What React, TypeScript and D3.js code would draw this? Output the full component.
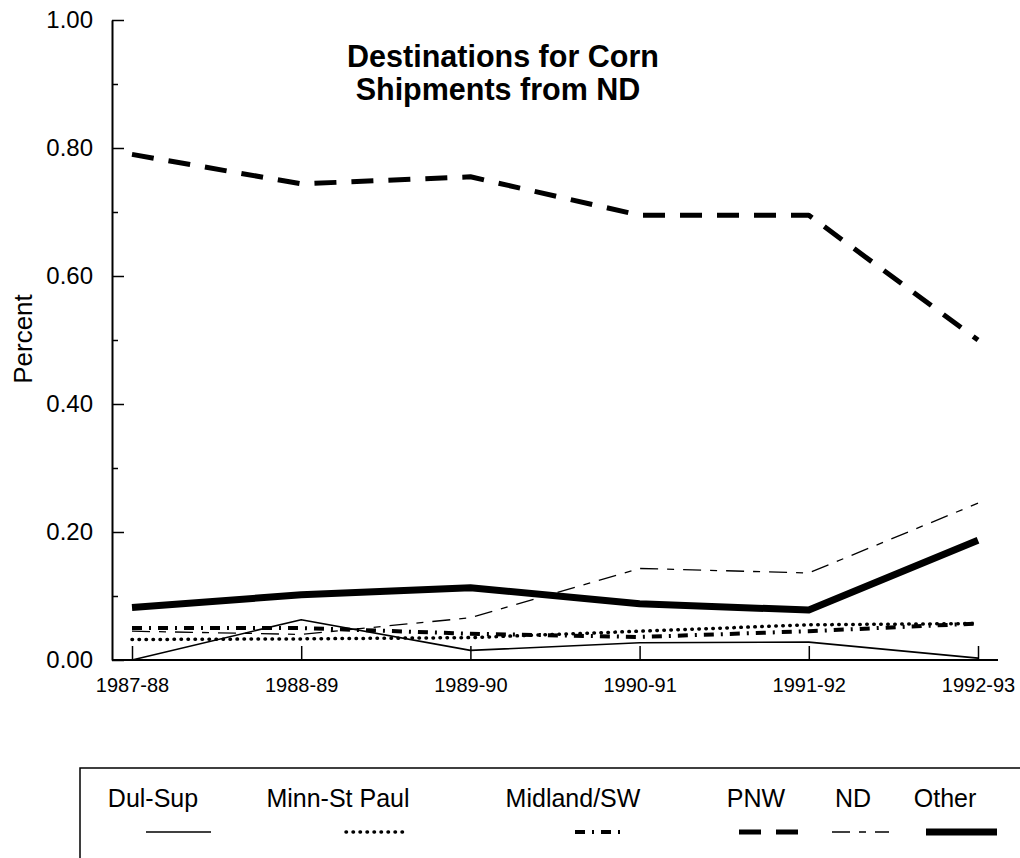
import * as d3 from 'd3';
import React, { useEffect, useRef } from 'react';

// marketing years on the x axis
const years = ['1987-88', '1988-89', '1989-90', '1990-91', '1991-92', '1992-93'];

// share of ND corn shipments by destination
const dulSup = [0.0, 0.063, 0.015, 0.027, 0.028, 0.003];
const minnStPaul = [0.032, 0.033, 0.035, 0.045, 0.055, 0.057];
const midlandSW = [0.05, 0.05, 0.041, 0.036, 0.045, 0.057];
const pnw = [0.79, 0.744, 0.755, 0.695, 0.695, 0.5];
const nd = [0.045, 0.04, 0.066, 0.143, 0.136, 0.245];
const other = [0.082, 0.102, 0.113, 0.088, 0.078, 0.187];

const seriesNames = ['Dul-Sup', 'Minn-St Paul', 'Midland/SW', 'PNW', 'ND', 'Other'];
const yMajorTicks = [0, 0.2, 0.4, 0.6, 0.8, 1.0];
const yMinorTicks = [0.1, 0.3, 0.5, 0.7, 0.9];

const FONT = "'Liberation Sans', Arial, Helvetica, sans-serif";

const styles = [
    { width: 1.6, dash: null, cap: 'butt' },
    { width: 3.5, dash: '0.5 6.5', cap: 'round' },
    { width: 4, dash: '10 7 2 7', cap: 'butt' },
    { width: 5, dash: '22 15', cap: 'butt' },
    { width: 1.3, dash: '18 9 7 9', cap: 'butt' },
    { width: 7, dash: null, cap: 'butt' },
];

// legend text centre and sample extent
const legendPos = [
    { tx: 153, s0: 146, s1: 211 },
    { tx: 338, s0: 346, s1: 404 },
    { tx: 573, s0: 575, s1: 627 },
    { tx: 756, s0: 739, s1: 805 },
    { tx: 853, s0: 832, s1: 889 },
    { tx: 945, s0: 926, s1: 997 },
];

const App = () => {
    const svgRef = useRef<SVGSVGElement | null>(null);

    useEffect(() => {
        const width = 1020;
        const height = 858;
        const allSeries = [dulSup, minnStPaul, midlandSW, pnw, nd, other];

        const x = d3.scalePoint<string>().domain(years).range([132, 978]);
        const y = d3.scaleLinear().domain([0, 1]).range([660, 20]);

        const svg = d3
            .select(svgRef.current)
            .attr('width', width)
            .attr('height', height)
            .attr('viewBox', [0, 0, width, height])
            .style('font-family', FONT);
        svg.selectAll('*').remove();

        svg.append('rect').attr('width', width).attr('height', height).attr('fill', '#fff');

        // y axis: minor ticks then labelled major ticks
        svg.append('g')
            .attr('transform', 'translate(112,0)')
            .call(d3.axisLeft(y).tickValues(yMinorTicks).tickSize(-6).tickFormat(() => ''))
            .call((g) => g.select('.domain').remove())
            .call((g) => g.selectAll('.tick line').attr('stroke-width', 1.5));

        svg.append('g')
            .attr('transform', 'translate(112,0)')
            .call(
                d3
                    .axisLeft(y)
                    .tickValues(yMajorTicks)
                    .tickSizeInner(-12)
                    .tickSizeOuter(0)
                    .tickPadding(19)
                    .tickFormat(d3.format('.2f')),
            )
            .call((g) => g.select('.domain').attr('stroke-width', 2))
            .call((g) => g.selectAll('.tick line').attr('stroke-width', 1.5))
            .call((g) =>
                g
                    .selectAll('.tick text')
                    .attr('font-size', 24)
                    .attr('font-family', FONT)
                    .attr('fill', '#000'),
            );

        // x axis
        svg.append('line')
            .attr('x1', 112)
            .attr('x2', 998)
            .attr('y1', y(0))
            .attr('y2', y(0))
            .attr('stroke', '#000')
            .attr('stroke-width', 2);

        svg.append('g')
            .attr('transform', `translate(0,${y(0)})`)
            .call(d3.axisBottom(x).tickSizeInner(-14).tickSizeOuter(0).tickPadding(18))
            .call((g) => g.select('.domain').remove())
            .call((g) => g.selectAll('.tick line').attr('stroke-width', 1.5))
            .call((g) =>
                g
                    .selectAll('.tick text')
                    .attr('font-size', 20)
                    .attr('font-family', FONT)
                    .attr('fill', '#000'),
            );

        svg.append('text')
            .attr('transform', 'translate(32,339) rotate(-90)')
            .attr('text-anchor', 'middle')
            .attr('font-size', 26)
            .text('Percent');

        // title
        const title = svg
            .append('text')
            .attr('text-anchor', 'middle')
            .attr('font-size', 30.5)
            .attr('font-weight', 'bold');
        title.append('tspan').attr('x', 503).attr('y', 67).text('Destinations for Corn');
        title.append('tspan').attr('x', 498).attr('y', 100).text('Shipments from ND');

        const line = d3
            .line<number>()
            .x((_, i) => x(years[i]) as number)
            .y((d) => y(d));

        allSeries.forEach((values, i) => {
            const st = styles[i];
            svg.append('path')
                .datum(values)
                .attr('d', line)
                .attr('fill', 'none')
                .attr('stroke', '#000')
                .attr('stroke-width', st.width)
                .attr('stroke-linecap', st.cap)
                .attr('stroke-linejoin', 'round')
                .attr('stroke-dasharray', st.dash);
        });

        // legend box
        svg.append('path')
            .attr('d', 'M80,858 L80,768 L1020,768')
            .attr('fill', 'none')
            .attr('stroke', '#000')
            .attr('stroke-width', 1.5);

        const legend = svg.append('g');
        seriesNames.forEach((name, i) => {
            const p = legendPos[i];
            const st = styles[i];
            legend
                .append('text')
                .attr('x', p.tx)
                .attr('y', 807)
                .attr('text-anchor', 'middle')
                .attr('font-size', 25)
                .text(name);
            legend
                .append('line')
                .attr('x1', p.s0)
                .attr('x2', p.s1)
                .attr('y1', 832)
                .attr('y2', 832)
                .attr('stroke', '#000')
                .attr('stroke-width', st.width)
                .attr('stroke-linecap', st.cap)
                .attr('stroke-dasharray', st.dash);
        });
    });

    return (
        <svg
            ref={svgRef}
            style={{ position: 'absolute', left: 0, top: 0, display: 'block' }}
        />
    );
};

export default App;
